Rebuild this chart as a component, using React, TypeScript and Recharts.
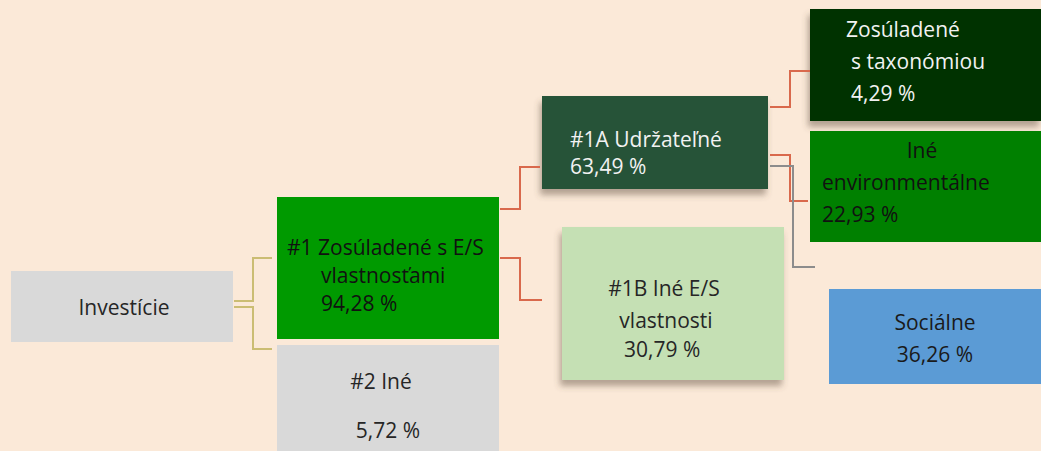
import { ComposedChart, XAxis, YAxis, ReferenceArea, Line } from 'recharts';

// Štruktúra investícií podľa kategórií
const categories = [
  'Investície',
  '#1 Zosúladené s E/S vlastnosťami',
  '#2 Iné',
  '#1A Udržateľné',
  '#1B Iné E/S vlastnosti',
  'Zosúladené s taxonómiou',
  'Iné environmentálne',
  'Sociálne',
];
const shares: (number | null)[] = [null, 94.28, 5.72, 63.49, 30.79, 4.29, 22.93, 36.26];
// zalomenie textu v boxoch (posledný riadok je podiel)
const labelLines = [
  ['Investície'],
  ['#1 Zosúladené s E/S', 'vlastnosťami'],
  ['#2 Iné'],
  ['#1A Udržateľné'],
  ['#1B Iné E/S', 'vlastnosti'],
  ['Zosúladené', 's taxonómiou'],
  ['Iné', 'environmentálne'],
  ['Sociálne'],
];
// väzby rodič -> potomok
const links = [
  [0, 1],
  [0, 2],
  [1, 3],
  [1, 4],
  [3, 5],
  [3, 6],
  [3, 7],
];

const W = 1041;
const H = 451;

type Anchor = 'start' | 'middle';
interface NodeLayout {
  x1: number;
  x2: number;
  y1: number;
  y2: number;
  fill: string;
  color: string;
  shadow?: boolean;
  lines: [number, number, Anchor][];
}

const layout: NodeLayout[] = [
  { x1: 11, x2: 233, y1: 271, y2: 342, fill: '#d9d9d9', color: '#262626', lines: [[124, 307, 'middle']] },
  {
    x1: 277, x2: 499, y1: 197, y2: 339, fill: '#009a00', color: '#111',
    lines: [[287, 247, 'start'], [321, 275, 'start'], [321, 303, 'start']],
  },
  { x1: 277, x2: 499, y1: 345, y2: 451, fill: '#d9d9d9', color: '#262626', lines: [[381, 381, 'middle'], [388, 430, 'middle']] },
  {
    x1: 542, x2: 768, y1: 96, y2: 189, fill: '#255239', color: '#f2f2f2', shadow: true,
    lines: [[570, 139, 'start'], [570, 166, 'start']],
  },
  {
    x1: 562, x2: 784, y1: 227, y2: 380, fill: '#c5e0b4', color: '#262626', shadow: true,
    lines: [[664, 288, 'middle'], [666, 320, 'middle'], [624, 349, 'start']],
  },
  {
    x1: 810, x2: 1041, y1: 9, y2: 121, fill: '#013300', color: '#f2f2f2', shadow: true,
    lines: [[846, 29, 'start'], [851, 61, 'start'], [851, 93, 'start']],
  },
  {
    x1: 810, x2: 1041, y1: 131, y2: 242, fill: '#008000', color: '#111',
    lines: [[922, 150, 'middle'], [822, 182, 'start'], [822, 214, 'start']],
  },
  { x1: 829, x2: 1041, y1: 289, y2: 384, fill: '#5b9bd5', color: '#1a1a1a', lines: [[935, 322, 'middle'], [935, 354, 'middle']] },
];

// lomené spojnice: [začiatok y, zlom x, koniec y, koniec x, začiatok x]
const linkLayout = [
  { pts: [[234, 301], [253, 301], [253, 258], [272, 258]], stroke: '#cbbd73' },
  { pts: [[234, 307], [253, 307], [253, 349], [272, 349]], stroke: '#cbbd73' },
  { pts: [[500, 209], [520, 209], [520, 167], [540, 167]], stroke: '#d9694c' },
  { pts: [[500, 258], [520, 258], [520, 300], [542, 300]], stroke: '#d9694c' },
  { pts: [[770, 107], [790, 107], [790, 71], [810, 71]], stroke: '#d9694c' },
  { pts: [[770, 155], [790, 155], [790, 201], [808, 201]], stroke: '#d9694c' },
  { pts: [[770, 166], [793, 166], [793, 267], [815, 267]], stroke: '#8c8c8c' },
];

const fmt = (v: number) => `${v.toFixed(2).replace('.', ',')} %`;

function NodeBox(props: any) {
  const { x, y, width, height, index } = props;
  const n = layout[index];
  const sx = width / (n.x2 - n.x1);
  const sy = height / (n.y2 - n.y1);
  const texts = [...labelLines[index]];
  if (shares[index] != null) texts.push(fmt(shares[index] as number));
  return (
    <g>
      <rect
        x={x}
        y={y}
        width={width}
        height={height}
        fill={n.fill}
        filter={n.shadow ? 'url(#boxShadow)' : undefined}
      />
      {texts.map((t, i) => {
        const [tx, ty, anchor] = n.lines[i];
        return (
          <text
            key={i}
            x={x + (tx - n.x1) * sx}
            y={y + (ty - n.y1) * sy}
            dy="0.36em"
            textAnchor={anchor}
            fill={n.color}
            fontSize={21}
            fontFamily="'Open Sans', sans-serif"
          >
            {t}
          </text>
        );
      })}
    </g>
  );
}

export default function App() {
  return (
    <div style={{ position: 'absolute', left: 0, top: 0, width: W, height: H, background: '#fbe9d8' }}>
      <ComposedChart width={W} height={H} margin={{ top: 0, right: 0, bottom: 0, left: 0 }}>
        <defs>
          <filter id="boxShadow" x="-10%" y="-10%" width="130%" height="140%">
            <feDropShadow dx="-2" dy="6" stdDeviation="3" floodColor="#5a4a3a" floodOpacity="0.45" />
          </filter>
        </defs>
        <XAxis type="number" dataKey="x" domain={[0, W]} hide allowDataOverflow />
        <YAxis type="number" domain={[0, H]} reversed hide allowDataOverflow />
        {linkLayout.map((l, i) => (
          <Line
            key={`link-${i}`}
            data={l.pts.map(([px, py]) => ({ x: px, y: py }))}
            dataKey="y"
            type="linear"
            stroke={l.stroke}
            strokeWidth={2}
            dot={false}
            activeDot={false}
            isAnimationActive={false}
            name={`${categories[links[i][0]]} → ${categories[links[i][1]]}`}
          />
        ))}
        {layout.map((n, i) => (
          <ReferenceArea
            key={categories[i]}
            x1={n.x1}
            x2={n.x2}
            y1={n.y1}
            y2={n.y2}
            ifOverflow="visible"
            shape={(p: any) => <NodeBox {...p} index={i} />}
          />
        ))}
      </ComposedChart>
    </div>
  );
}
